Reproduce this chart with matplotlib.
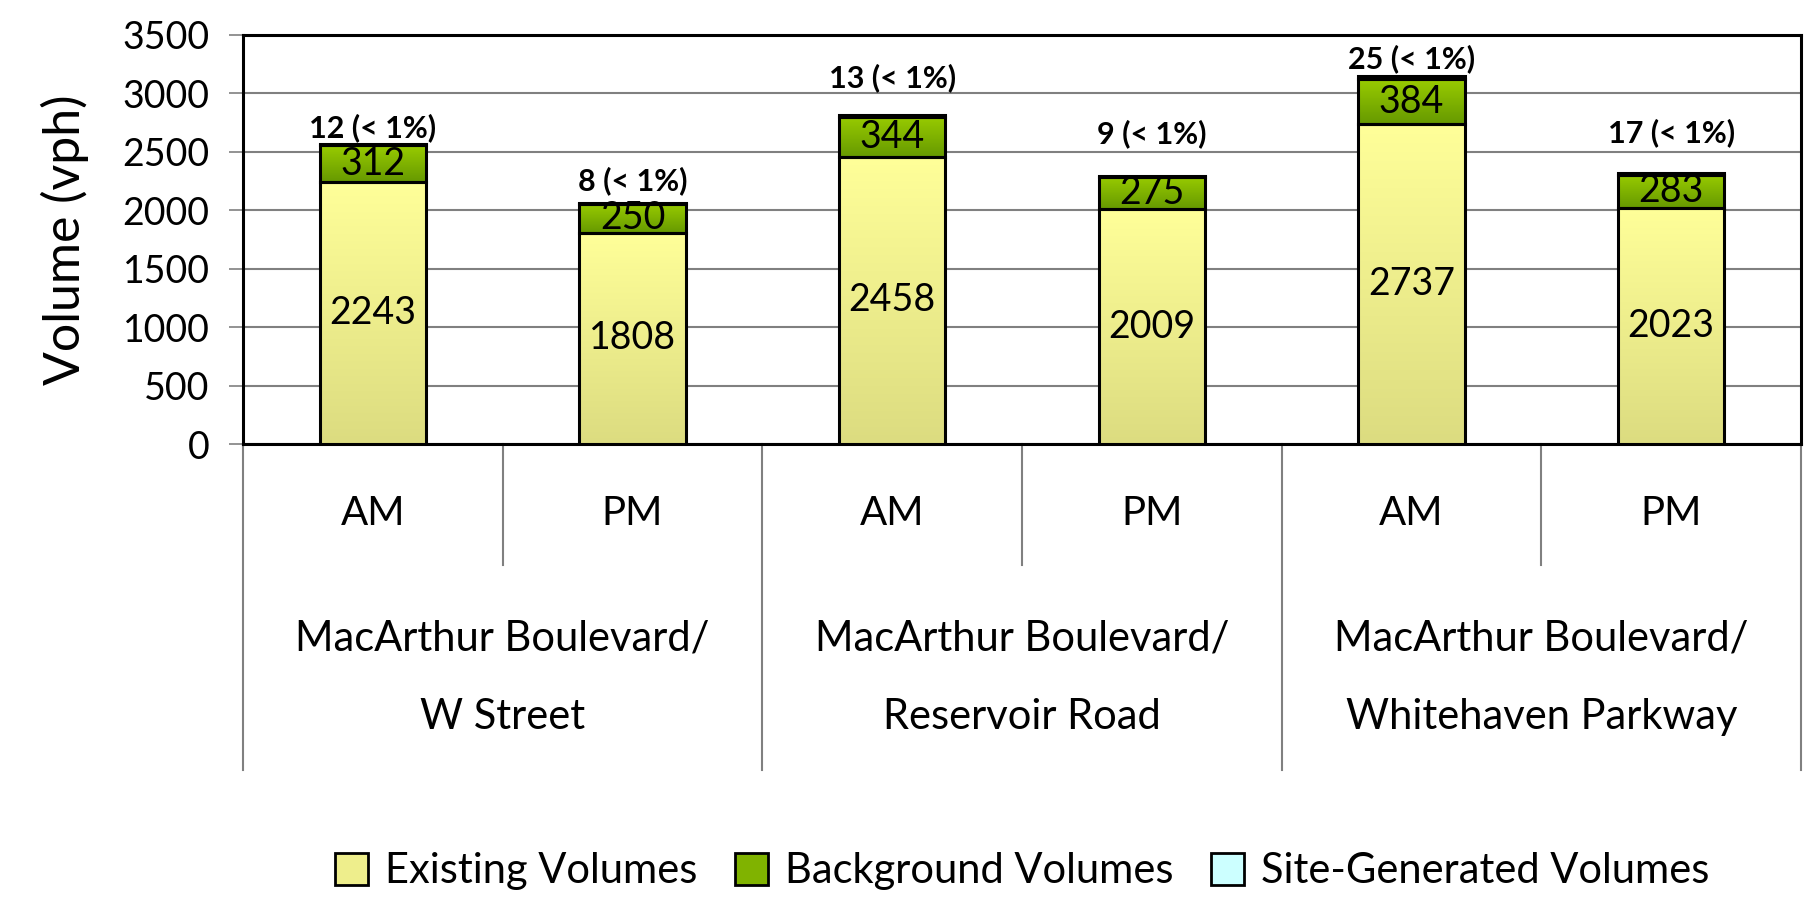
import numpy as np
import matplotlib
matplotlib.use('Agg')
import matplotlib.pyplot as plt
from matplotlib.colors import LinearSegmentedColormap
from matplotlib.patches import Patch

plt.rcParams['font.family'] = ['Lato', 'DejaVu Sans']

periods = ['AM', 'PM', 'AM', 'PM', 'AM', 'PM']
intersections = ['MacArthur Boulevard/\nW Street',
                 'MacArthur Boulevard/\nReservoir Road',
                 'MacArthur Boulevard/\nWhitehaven Parkway']
existing = [2243, 1808, 2458, 2009, 2737, 2023]
background = [312, 250, 344, 275, 384, 283]
site_generated = [12, 8, 13, 9, 25, 17]
site_labels = ['12 (< 1%)', '8 (< 1%)', '13 (< 1%)', '9 (< 1%)', '25 (< 1%)', '17 (< 1%)']
# extra lift of the site-generated labels above each bar
label_lift = [140, 190, 320, 360, 150, 340]

yticks = [0, 500, 1000, 1500, 2000, 2500, 3000, 3500]

fig = plt.figure(figsize=(18.09, 8.97), dpi=100)
ax = fig.add_axes([0.1343, 0.505, 0.8613, 0.456])

x = np.arange(len(periods))
width = 0.41

yellow = LinearSegmentedColormap.from_list('yel', ['#dcdc80', '#ffff99'])
green = LinearSegmentedColormap.from_list('grn', ['#669900', '#99cc00'])
grad = np.linspace(0, 1, 256).reshape(-1, 1)


def gradient_bars(bottoms, heights, cmap):
    bars = ax.bar(x, heights, width, bottom=bottoms, facecolor='none',
                  edgecolor='black', linewidth=2.2, zorder=4)
    for b in bars:
        x0, y0 = b.get_x(), b.get_y()
        im = ax.imshow(grad, cmap=cmap, origin='lower', aspect='auto',
                       extent=[x0, x0 + b.get_width(), y0, y0 + b.get_height()],
                       zorder=3)
        im.set_clip_path(b)
    return bars


gradient_bars(np.zeros(len(x)), existing, yellow)
bottom2 = np.array(existing)
gradient_bars(bottom2, background, green)
bottom3 = bottom2 + np.array(background)
ax.bar(x, site_generated, width, bottom=bottom3, facecolor='#ccffff',
       edgecolor='black', linewidth=2.2, zorder=4)

ax.set_xlim(-0.5, len(x) - 0.5)
ax.set_ylim(0, 3500)
ax.set_yticks(yticks)
ax.set_yticklabels([str(v) for v in yticks], fontsize=27)
ax.set_xticks([])
ax.tick_params(axis='y', direction='out', length=10, width=1.2, color='#808080', pad=14)
ax.yaxis.grid(True, color='#808080', linewidth=1.5, zorder=0)
ax.set_axisbelow(True)
for s in ax.spines.values():
    s.set_linewidth(2.2)
ax.set_ylabel('Volume (vph)', fontsize=36, labelpad=24)

# value labels
for i in x:
    ax.text(i, existing[i] / 2, str(existing[i]), ha='center', va='center',
            fontsize=27, zorder=5)
    ax.text(i, existing[i] + background[i] / 2, str(background[i]), ha='center',
            va='center', fontsize=27, zorder=5)
    top = existing[i] + background[i] + site_generated[i]
    ax.text(i, top + label_lift[i], site_labels[i], ha='center', va='center',
            fontsize=22, fontweight='bold', zorder=5)

# two-level category axis
trans = ax.get_xaxis_transform()
sep = dict(color='#808080', linewidth=1.5, clip_on=False, transform=trans)
for i in x:
    ax.text(i, -0.169, periods[i], ha='center', va='center', fontsize=29,
            transform=trans)
for g in range(len(intersections)):
    ax.plot([2 * g - 0.5, 2 * g - 0.5], [0, -0.797], **sep)
    ax.plot([2 * g + 0.5, 2 * g + 0.5], [0, -0.296], **sep)
    ax.text(2 * g + 0.5, -0.572, intersections[g], ha='center', va='center',
            fontsize=30, linespacing=2.3, transform=trans)
ax.plot([len(x) - 0.5, len(x) - 0.5], [0, -0.797], **sep)

handles = [Patch(facecolor='#eeee8c', edgecolor='black', linewidth=2),
           Patch(facecolor='#80b300', edgecolor='black', linewidth=2),
           Patch(facecolor='#ccffff', edgecolor='black', linewidth=2)]
ax.legend(handles, ['Existing Volumes', 'Background Volumes', 'Site-Generated Volumes'],
          loc='center', bbox_to_anchor=(0.5, -1.045), ncol=3, frameon=False,
          fontsize=30, handlelength=0.8, handleheight=0.8, handletextpad=0.4,
          columnspacing=0.9)

fig.savefig('out.png', dpi=100)
